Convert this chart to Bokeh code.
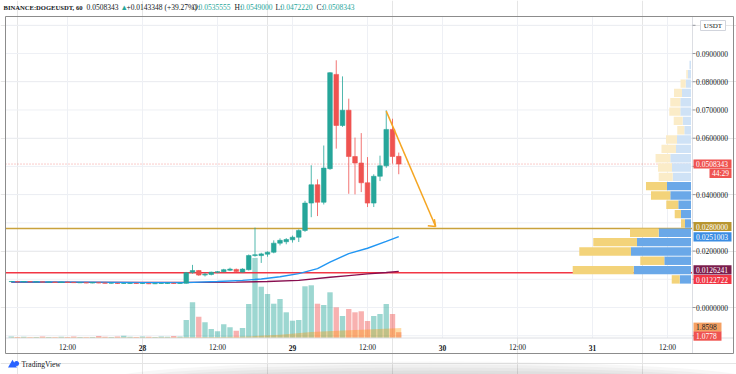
from bokeh.plotting import figure
from bokeh.models import Range1d, ColumnDataSource
from bokeh.core.properties import value
from bokeh.embed import file_html
from bokeh.resources import INLINE

# ---------------- data (hours counted from 28 Jan 00:00, 1h candles) ----------------
hours = list(range(-21, 42))
opens = [0.0092, 0.0092, 0.0091, 0.0092, 0.0091, 0.0091, 0.0090, 0.0090, 0.0089, 0.0090,
         0.0089, 0.0088, 0.0088, 0.0087, 0.0088, 0.0087, 0.0086, 0.0086, 0.0085, 0.0085,
         0.0086, 0.0085, 0.0085, 0.0084, 0.0085, 0.0085, 0.0086, 0.0085,
         0.0086, 0.0125, 0.0131, 0.0115, 0.0117, 0.0125, 0.0127, 0.0132, 0.0135, 0.0126,
         0.0134, 0.0184, 0.0184, 0.0189, 0.0196, 0.0228, 0.0233, 0.0240, 0.0249, 0.0273,
         0.0370, 0.0435, 0.0373, 0.0492, 0.0826, 0.0645, 0.0699, 0.0535, 0.0512, 0.0442,
         0.0370, 0.0465, 0.0502, 0.0631, 0.0535555]
highs = [0.0094, 0.0093, 0.0093, 0.0093, 0.0092, 0.0092, 0.0091, 0.0091, 0.0091, 0.0091,
         0.0090, 0.0089, 0.0089, 0.0089, 0.0089, 0.0088, 0.0087, 0.0087, 0.0086, 0.0087,
         0.0087, 0.0086, 0.0086, 0.0086, 0.0086, 0.0087, 0.0087, 0.0087,
         0.0126, 0.0151, 0.0133, 0.0123, 0.0127, 0.0129, 0.0137, 0.0141, 0.0138, 0.0139,
         0.0188, 0.0283, 0.0194, 0.0199, 0.0238, 0.0245, 0.0246, 0.0255, 0.0277, 0.0378,
         0.0504, 0.0454, 0.0574, 0.0834, 0.0876, 0.0819, 0.0740, 0.0602, 0.0618, 0.0533,
         0.0472, 0.0538, 0.0699, 0.0669, 0.0549000]
lows = [0.0091, 0.0090, 0.0090, 0.0090, 0.0090, 0.0089, 0.0089, 0.0088, 0.0088, 0.0088,
        0.0087, 0.0087, 0.0086, 0.0086, 0.0086, 0.0085, 0.0085, 0.0084, 0.0084, 0.0084,
        0.0084, 0.0084, 0.0083, 0.0083, 0.0084, 0.0084, 0.0084, 0.0084,
        0.0085, 0.0120, 0.0112, 0.0110, 0.0114, 0.0122, 0.0125, 0.0129, 0.0126, 0.0124,
        0.0131, 0.0180, 0.0158, 0.0180, 0.0192, 0.0220, 0.0224, 0.0230, 0.0232, 0.0268,
        0.0320, 0.0324, 0.0365, 0.0488, 0.0563, 0.0640, 0.0403, 0.0401, 0.0409, 0.0356,
        0.0356, 0.0448, 0.0495, 0.0510, 0.0472220]
closes = [0.0092, 0.0091, 0.0092, 0.0091, 0.0091, 0.0090, 0.0090, 0.0089, 0.0090, 0.0089,
          0.0088, 0.0088, 0.0087, 0.0088, 0.0087, 0.0086, 0.0086, 0.0085, 0.0085, 0.0086,
          0.0085, 0.0085, 0.0084, 0.0085, 0.0085, 0.0086, 0.0085, 0.0086,
          0.0123, 0.0131, 0.0115, 0.0118, 0.0125, 0.0127, 0.0134, 0.0136, 0.0128, 0.0136,
          0.0184, 0.0187, 0.0190, 0.0196, 0.0228, 0.0238, 0.0241, 0.0249, 0.0273, 0.0370,
          0.0435, 0.0373, 0.0494, 0.0832, 0.0645, 0.0699, 0.0535, 0.0512, 0.0442, 0.0370,
          0.0465, 0.0502, 0.0631, 0.0535, 0.0508343]
volumes = [0.30, 0.20, 0.25, 0.15, 0.20, 0.30, 0.20, 0.15, 0.25, 0.20, 0.30, 0.20, 0.15, 0.20,
           0.35, 0.25, 0.20, 0.30, 0.40, 0.25, 0.20, 0.30, 0.25, 0.20, 0.30, 0.25, 0.35, 0.30,
           3.35, 6.64, 3.96, 2.92, 1.67, 1.25, 2.55, 1.99, 1.36, 1.86, 6.32, 14.9, 9.54, 8.18,
           6.38, 7.25, 4.78, 3.22, 3.35, 9.62, 9.80, 6.38, 6.14, 8.50, 5.71, 4.09, 5.39, 4.78,
           4.97, 3.16, 4.09, 4.46, 6.32, 4.46, 1.0778]

ma50_t = [-21, -10, 0, 7, 12, 16, 19, 22, 25, 28, 30, 33, 36, 39, 41]
ma50_v = [0.0091, 0.0090, 0.0088, 0.0088, 0.0092, 0.0096, 0.0101, 0.0109, 0.0120, 0.0138,
          0.0161, 0.0191, 0.0210, 0.0234, 0.0251003]
ma200_t = [-21, 0, 7, 15, 20, 25, 30, 33, 36, 39, 41]
ma200_v = [0.0090, 0.0089, 0.0089, 0.0090, 0.0092, 0.0096, 0.0107, 0.0113, 0.0119, 0.0124, 0.0128]
vma_t = [-21, -10, 0, 7, 12, 17, 22, 27, 32, 36, 41.4]
vma_v = [0.12, 0.12, 0.12, 0.13, 0.2, 0.3, 0.6, 1.1, 1.4, 1.6, 1.8598]

# visible-range volume profile, rows from the top (0.0876) down to the bottom (0.0083)
vp_hi, vp_lo = 0.0876, 0.0083
vp_up = [0.32, 0.67, 1.11, 1.89, 2.25, 2.25, 1.74, 1.41, 2.94, 3.15, 4.35, 3.99, 3.84,
         5.04, 4.35, 2.67, 2.10, 1.26, 6.78, 11.34, 12.60, 5.61, 12.03, 2.37]
vp_down = [0.0, 0.32, 1.09, 1.68, 2.10, 2.31, 1.89, 1.47, 2.31, 3.05, 3.09, 2.94, 2.94,
           4.41, 4.05, 2.52, 1.32, 0.84, 6.03, 9.18, 10.86, 5.04, 12.81, 1.68]
vp_in_value_area = [False] * 13 + [True] * 11

tick_hours = [-12, 0, 12, 24, 36, 48, 60, 72, 84]
tick_labels = ["12:00", "28", "12:00", "29", "12:00", "30", "12:00", "31", "12:00"]
price_grid = [-0.01, 0.0, 0.01, 0.02, 0.03, 0.04, 0.05, 0.06, 0.07, 0.08, 0.09, 0.10]
price_labels = [0.0, 0.02, 0.04, 0.06, 0.07, 0.08, 0.09]

level_gold = 0.028
level_red = 0.0122722
last_price = 0.0508343
arrow_start = (39.0, 0.0696)
arrow_end = (46.9, 0.0287)

# ---------------- layout helpers (page pixel -> chart coordinates) ----------------
UP, DN = "#26a69a", "#ef5350"
INK = "#131722"
FONT = value("Liberation Sans Narrow")
FS = value("7.5px")


def hx(px):
    return (px - 142) / 6.25


def py(y):
    return (307 - y) / 2822


PANE_L, PANE_R, PANE_T, PANE_B = 5, 692, 16, 337.5
BOX_R, BOX_B = 733, 353

p = figure(width=736, height=374, output_backend="svg", toolbar_location=None, title=None,
           x_axis_location=None, y_axis_location=None,
           x_range=Range1d(hx(0), hx(736)), y_range=Range1d(py(374), py(0)),
           min_border=0)
p.background_fill_color = "white"
p.border_fill_color = "white"
p.outline_line_color = None
p.extra_y_ranges = {"vol": Range1d(-(374 - 337.5) * 0.186, 337.5 * 0.186)}
p.extra_x_ranges = {"vp": Range1d(690.5 * 0.21, (690.5 - 736) * 0.21)}

# grid
p.segment(x0=tick_hours, x1=tick_hours, y0=[py(PANE_B)] * len(tick_hours),
          y1=[py(PANE_T)] * len(tick_hours), line_color="#eef0f5", line_width=1)
p.segment(x0=[hx(PANE_L)] * len(price_grid), x1=[hx(PANE_R)] * len(price_grid),
          y0=price_grid, y1=price_grid, line_color="#eef0f5", line_width=1)

cols = [UP if c >= o else DN for o, c in zip(opens, closes)]
src = ColumnDataSource(dict(t=hours, o=opens, h=highs, l=lows, c=closes, v=volumes, col=cols,
                            top=[max(a, b) for a, b in zip(opens, closes)],
                            bot=[min(a, b) for a, b in zip(opens, closes)]))

# volume pane
p.vbar(x="t", width=0.86, top="v", bottom=0, source=src, y_range_name="vol",
       fill_color="col", fill_alpha=0.45, line_color=None)
p.varea(x=vma_t, y1=[0] * len(vma_t), y2=vma_v, y_range_name="vol",
        fill_color="#ff9800", fill_alpha=0.35)

# horizontal levels and price line
p.segment(x0=[hx(PANE_L)] * 2, x1=[hx(PANE_R)] * 2, y0=[level_gold, level_red],
          y1=[level_gold, level_red], line_color=["#c9a23c", "#f23645"], line_width=1.5)
p.segment(x0=[hx(PANE_L)], x1=[hx(PANE_R)], y0=[last_price], y1=[last_price],
          line_color="#ef5350", line_alpha=0.6, line_dash="1 2", line_width=1)

# moving averages
p.line(ma200_t, ma200_v, line_color="#880e4f", line_width=1.4)
p.line(ma50_t, ma50_v, line_color="#2196f3", line_width=1.4)

# candles
p.segment(x0="t", y0="l", x1="t", y1="h", source=src, line_color="col", line_width=1, line_alpha=0.8)
p.vbar(x="t", width=0.74, top="top", bottom="bot", source=src, fill_color="col", line_color="col",
       line_width=0.6)

# volume profile
row = (vp_hi - vp_lo) / len(vp_up)
centers = [vp_hi - (i + 0.5) * row for i in range(len(vp_up))]
blue = ["#6aa8e8" if va else "#cfe2f6" for va in vp_in_value_area]
yell = ["#f3d37a" if va else "#fbecc8" for va in vp_in_value_area]
p.hbar(y=centers, height=row * 0.9, left=0, right=vp_up, x_range_name="vp",
       fill_color=blue, line_color=None)
p.hbar(y=centers, height=row * 0.9, left=vp_up, right=[a + b for a, b in zip(vp_up, vp_down)],
       x_range_name="vp", fill_color=yell, line_color=None)

# drawn arrow (line + open head)
(ax0, ay0), (ax1, ay1) = arrow_start, arrow_end
p.segment(x0=[ax0], y0=[ay0], x1=[ax1], y1=[ay1], line_color="#f5a623", line_width=1.5)
p.segment(x0=[ax1, ax1], y0=[ay1, ay1], x1=[ax1 - 0.2, ax1 - 1.25], y1=[ay1 + 0.0026, ay1 + 0.0003],
          line_color="#f5a623", line_width=1.5)

# separators and outer box
p.segment(x0=[hx(PANE_R), hx(PANE_L)], x1=[hx(PANE_R), hx(BOX_R)],
          y0=[py(PANE_T), py(PANE_B)], y1=[py(BOX_B), py(PANE_B)], line_color="#dcdee3", line_width=1)
p.quad(left=[hx(PANE_L)], right=[hx(BOX_R)], top=[py(PANE_T)], bottom=[py(BOX_B)],
       fill_color=None, line_color="#8c8c8c", line_width=1)

# price scale: ticks + labels
p.segment(x0=[hx(PANE_R)] * len(price_grid), x1=[hx(PANE_R + 3)] * len(price_grid),
          y0=price_grid, y1=price_grid, line_color="#9598a1", line_width=1)
p.text(x=[hx(PANE_R + 3.5)] * len(price_labels), y=price_labels,
       text=[f"{v:.7f}" for v in price_labels], text_font=FONT, text_font_size=FS,
       text_color=INK, text_baseline="middle", text_align="left")

# time scale labels
norm = [(h, t) for h, t in zip(tick_hours, tick_labels) if ":" in t]
days = [(h, t) for h, t in zip(tick_hours, tick_labels) if ":" not in t]
p.text(x=[h for h, _ in norm], y=[py(347)] * len(norm), text=[t for _, t in norm],
       text_font=FONT, text_font_size=FS, text_color=INK, text_baseline="middle", text_align="center")
p.text(x=[h for h, _ in days], y=[py(347)] * len(days), text=[t for _, t in days],
       text_font=FONT, text_font_size=FS, text_color=INK, text_baseline="middle", text_align="center",
       text_font_style="bold")

# price tags on the scale
tags = [("0.0508343", 693, 731, 163.5, "#ef5350", "white"),
        ("44:29", 709, 731, 172.8, "#ef5350", "white"),
        ("0.0280000", 693, 731, 226.0, "#b8952f", "white"),
        ("0.0251003", 693, 731, 236.3, "#3b8de3", "white"),
        ("0.0126241", 693, 731, 269.3, "#7b1d4c", "white"),
        ("0.0122722", 693, 731, 279.0, "#f23645", "white"),
        ("1.8598", 693, 721, 326.7, "#f4a062", INK),
        ("1.0778", 693, 721, 335.6, "#ef5350", "white")]
p.quad(left=[hx(t[1]) for t in tags], right=[hx(t[2]) for t in tags],
       top=[py(t[3] - 4.6) for t in tags], bottom=[py(t[3] + 4.6) for t in tags],
       fill_color=[t[4] for t in tags], line_color=None)
p.text(x=[hx(t[1] + 2.5) for t in tags], y=[py(t[3]) for t in tags], text=[t[0] for t in tags],
       text_font=FONT, text_font_size=FS, text_color=[t[5] for t in tags],
       text_baseline="middle", text_align="left")

# currency badge
p.quad(left=[hx(700)], right=[hx(725)], top=[py(20)], bottom=[py(30)], fill_color="white",
       line_color="#d1d4dc", line_width=1)
p.text(x=[hx(712.5)], y=[py(25)], text=["USDT"], text_font=FONT, text_font_size=value("7px"),
       text_color=INK, text_baseline="middle", text_align="center")

# header line
header = [(3, "BINANCE:DOGEUSDT, 60", INK), (86, "0.0508343", INK), (120, "▲", UP),
          (126, "+0.0143348 (+39.27%)", INK), (192, "O:", INK), (198, "0.0535555", UP),
          (234, "H:", INK), (240, "0.0549000", UP), (275, "L:", INK), (280, "0.0472220", UP),
          (316, "C:", INK), (322, "0.0508343", UP)]
p.text(x=[hx(header[0][0])], y=[py(6.5)], text=[header[0][1]], text_font=FONT,
       text_font_size=value("6.6px"), text_color=INK, text_font_style="bold",
       text_baseline="middle", text_align="left")
p.text(x=[hx(h[0]) for h in header[1:]], y=[py(6.5)] * (len(header) - 1),
       text=[h[1] for h in header[1:]], text_font=FONT, text_font_size=FS,
       text_color=[h[2] for h in header[1:]], text_baseline="middle", text_align="left")

# soft shadow under the widget
for w, hgt in [(640, 36), (600, 30), (560, 24), (520, 18), (480, 12)]:
    p.ellipse(x=[hx(430)], y=[py(379)], width=w, height=hgt, width_units="screen",
              height_units="screen", fill_color="black", fill_alpha=0.03, line_color=None)

# logo mark + name
p.scatter(x=[hx(12)], y=[py(364.5)], marker="triangle", size=9, fill_color="#2962ff",
          line_color=None)
p.scatter(x=[hx(16)], y=[py(363)], marker="circle", size=5, fill_color="#2962ff", line_color=None)
p.text(x=[hx(21)], y=[py(364)], text=["TradingView"], text_font=FONT, text_font_size=FS,
       text_color=INK, text_baseline="middle", text_align="left")

open("out.html", "w").write(file_html(p, INLINE))
